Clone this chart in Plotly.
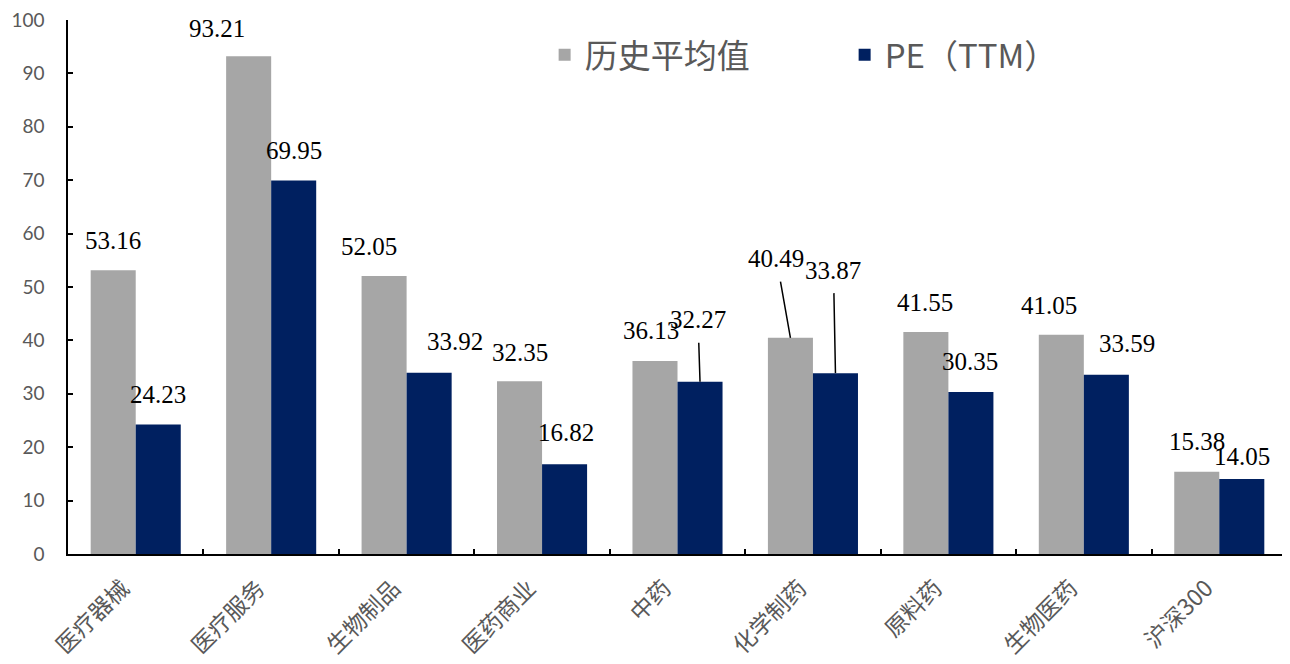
import plotly.graph_objects as go

categories = ["医疗器械", "医疗服务", "生物制品", "医药商业", "中药", "化学制药", "原料药", "生物医药", "沪深300"]
hist_avg = [53.16, 93.21, 52.05, 32.35, 36.13, 40.49, 41.55, 41.05, 15.38]
pe_ttm = [24.23, 69.95, 33.92, 16.82, 32.27, 33.87, 30.35, 33.59, 14.05]

# label placement styles (pixel offsets of label centre from bar top); leader flags
hist_dx = [0, -32, -15, 0, -4, -14, -1, -12, 0]
hist_dy = [30, 28, 30, 29, 31, 79, 30, 29, 30]
hist_leader = [False, False, False, False, False, True, False, False, False]
pe_dx = [0, 0, 26, 1, -2, -2, -1, 21, 0]
pe_dy = [30, 30, 31, 32, 62, 103, 30, 31, 22]
pe_leader = [False, False, False, False, True, True, False, False, False]

GRAY = "#A6A6A6"
NAVY = "#002060"
TXT = "#595959"
BARGAP = 0.335

fig = go.Figure()
fig.add_trace(go.Bar(x=categories, y=hist_avg, name="历史平均值", marker=dict(color=GRAY, line=dict(width=0))))
fig.add_trace(go.Bar(x=categories, y=pe_ttm, name="PE（TTM）", marker=dict(color=NAVY, line=dict(width=0))))

half = (1 - BARGAP) / 4.0
annotations = []
for series, dxs, dys, leaders, off in [
    (hist_avg, hist_dx, hist_dy, hist_leader, -half),
    (pe_ttm, pe_dx, pe_dy, pe_leader, half),
]:
    for i, v in enumerate(series):
        base = dict(x=i + off, y=v, xref="x", yref="y", text=f"{v:.2f}",
                    font=dict(family="Liberation Serif", size=25, color="#000000"))
        if leaders[i]:
            base.update(showarrow=True, arrowhead=0, arrowwidth=1.5, arrowcolor="#000000",
                        ax=dxs[i], ay=-dys[i], standoff=0, startstandoff=8)
        else:
            base.update(showarrow=False, xshift=dxs[i], yshift=dys[i])
        annotations.append(base)

fig.update_layout(
    width=1290, height=664,
    margin=dict(l=60, r=11, t=12, b=118, autoexpand=False),
    paper_bgcolor="white", plot_bgcolor="white",
    barmode="group", bargap=BARGAP, bargroupgap=0,
    showlegend=True,
    legend=dict(orientation="h", x=0.391, xanchor="left", y=0.935, yanchor="middle",
                font=dict(family="Noto Sans CJK SC", size=33, color=TXT),
                entrywidth=255, entrywidthmode="pixels", bgcolor="rgba(0,0,0,0)",
                itemclick=False),
    annotations=annotations,
    xaxis=dict(showline=True, linecolor="#000000", linewidth=1.5, ticks="inside", ticklen=5,
               tickcolor="#000000", tickwidth=1.5, tickson="boundaries", tickangle=-45,
               tickfont=dict(family="Noto Sans CJK SC", size=23, color=TXT), showgrid=False,
               automargin=False, ticklabelshift=-13, ticklabelstandoff=10,
               ticklabeloverflow="allow"),
    yaxis=dict(range=[0, 100], dtick=10, showline=True, linecolor="#000000", linewidth=1.5,
               ticks="inside", ticklen=5, tickcolor="#000000", tickwidth=1.5,
               tickfont=dict(family="Lato", size=19, color=TXT), showgrid=False,
               zeroline=False, ticklabelstandoff=18, automargin=False,
               ticklabeloverflow="allow"),
)

fig.write_html("out.html")
